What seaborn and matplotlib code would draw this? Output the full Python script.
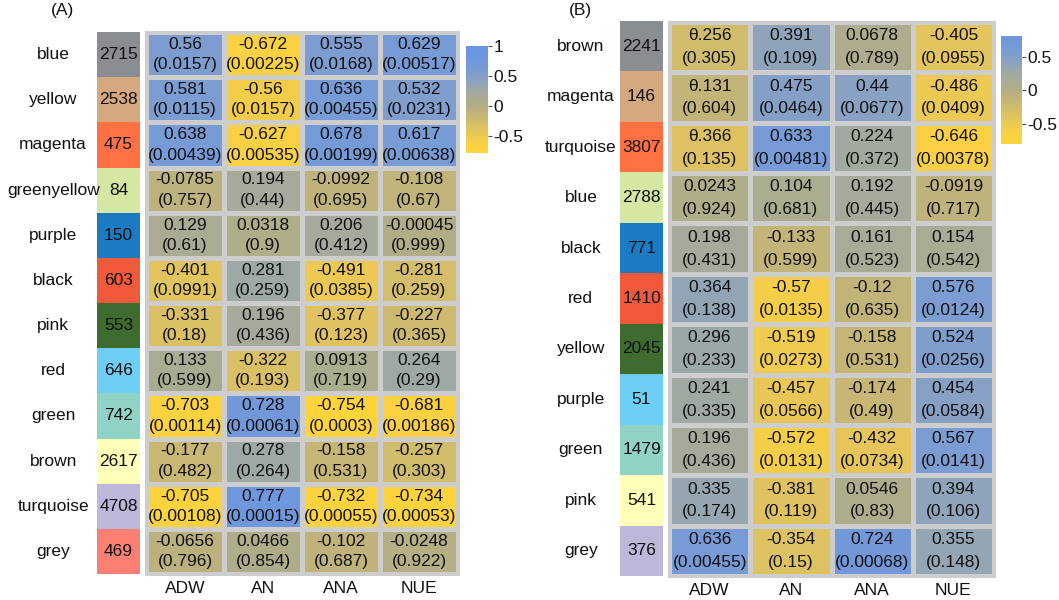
import numpy as np
import pandas as pd
import matplotlib
matplotlib.use("Agg")
import matplotlib.pyplot as plt
import seaborn as sns
from matplotlib.colors import ListedColormap, LinearSegmentedColormap

# ---- data: panel A ----
rows_a = ["blue", "yellow", "magenta", "greenyellow", "purple", "black",
          "pink", "red", "green", "brown", "turquoise", "grey"]
counts_a = [2715, 2538, 475, 84, 150, 603, 553, 646, 742, 2617, 4708, 469]
traits = ["ADW", "AN", "ANA", "NUE"]
r_a = [[0.56, -0.672, 0.555, 0.629],
       [0.581, -0.56, 0.636, 0.532],
       [0.638, -0.627, 0.678, 0.617],
       [-0.0785, 0.194, -0.0992, -0.108],
       [0.129, 0.0318, 0.206, -0.00045],
       [-0.401, 0.281, -0.491, -0.281],
       [-0.331, 0.196, -0.377, -0.227],
       [0.133, -0.322, 0.0913, 0.264],
       [-0.703, 0.728, -0.754, -0.681],
       [-0.177, 0.278, -0.158, -0.257],
       [-0.705, 0.777, -0.732, -0.734],
       [-0.0656, 0.0466, -0.102, -0.0248]]
p_a = [[0.0157, 0.00225, 0.0168, 0.00517],
       [0.0115, 0.0157, 0.00455, 0.0231],
       [0.00439, 0.00535, 0.00199, 0.00638],
       [0.757, 0.44, 0.695, 0.67],
       [0.61, 0.9, 0.412, 0.999],
       [0.0991, 0.259, 0.0385, 0.259],
       [0.18, 0.436, 0.123, 0.365],
       [0.599, 0.193, 0.719, 0.29],
       [0.00114, 0.00061, 0.0003, 0.00186],
       [0.482, 0.264, 0.531, 0.303],
       [0.00108, 0.00015, 0.00055, 0.00053],
       [0.796, 0.854, 0.687, 0.922]]

# ---- data: panel B ----
rows_b = ["brown", "magenta", "turquoise", "blue", "black", "red",
          "yellow", "purple", "green", "pink", "grey"]
counts_b = [2241, 146, 3807, 2788, 771, 1410, 2045, 51, 1479, 541, 376]
r_b = [[-0.256, 0.391, 0.0678, -0.405],
       [-0.131, 0.475, 0.44, -0.486],
       [-0.366, 0.633, 0.224, -0.646],
       [0.0243, 0.104, 0.192, -0.0919],
       [0.198, -0.133, 0.161, 0.154],
       [0.364, -0.57, -0.12, 0.576],
       [0.296, -0.519, -0.158, 0.524],
       [0.241, -0.457, -0.174, 0.454],
       [0.196, -0.572, -0.432, 0.567],
       [0.335, -0.381, 0.0546, 0.394],
       [0.636, -0.354, 0.724, 0.355]]
p_b = [[0.305, 0.109, 0.789, 0.0955],
       [0.604, 0.0464, 0.0677, 0.0409],
       [0.135, 0.00481, 0.372, 0.00378],
       [0.924, 0.681, 0.445, 0.717],
       [0.431, 0.599, 0.523, 0.542],
       [0.138, 0.0135, 0.635, 0.0124],
       [0.233, 0.0273, 0.531, 0.0256],
       [0.335, 0.0566, 0.49, 0.0584],
       [0.436, 0.0131, 0.0734, 0.0141],
       [0.174, 0.119, 0.83, 0.106],
       [0.00455, 0.15, 0.00068, 0.148]]
# in B the first three ADW labels are printed with a struck zero
theta_cells_b = [(0, 0), (1, 0), (2, 0)]

module_colors = ["#8A8D92", "#D5A87F", "#FF7043", "#D6E6A3", "#1A7BC3", "#EE5A3A",
                 "#3E6B2E", "#6DCFF5", "#8ED3C6", "#FFFFB9", "#BDB7D9", "#FB7F72"]

# colour stops by correlation value
stops = [(-0.80, "#FFD43A"), (-0.6, "#F7CF46"), (-0.4, "#E2C45E"), (-0.15, "#C5B676"),
         (0.0, "#B2AD86"), (0.15, "#A9AB94"), (0.3, "#9BA8AA"), (0.45, "#88A1C4"),
         (0.6, "#799CD4"), (0.8, "#6E96DE"), (1.0, "#6A94E4")]

W, H = 1059, 600
FS = 12.5


def make_cmap(vmin, vmax):
    vals = np.array([s[0] for s in stops])
    cols = [s[1] for s in stops]
    pts = []
    for v, c in zip(vals, cols):
        f = (v - vmin) / (vmax - vmin)
        if 0 <= f <= 1:
            pts.append((f, c))
    if pts[0][0] > 0:
        pts.insert(0, (0.0, cols[0]))
    if pts[-1][0] < 1:
        pts.append((1.0, cols[np.searchsorted(vals, vmax)]))
    return LinearSegmentedColormap.from_list("corr", pts)


def box(x, y, w, h):
    return [x / W, 1 - (y + h) / H, w / W, h / H]


def panel(fig, rows, counts, r, p, geo, vmin, vmax, cticks, label_x, title, title_x,
          theta=(), spacing=1.4):
    cnt_box, heat_box, cb_box = geo
    n = len(rows)

    # module size column
    ax_c = fig.add_axes(box(*cnt_box))
    idx = pd.DataFrame(np.arange(n).reshape(-1, 1))
    sns.heatmap(idx, ax=ax_c, cmap=ListedColormap(module_colors[:n]), cbar=False,
                annot=np.array(counts).reshape(-1, 1), fmt="d",
                annot_kws={"fontsize": FS, "color": "#111111"},
                xticklabels=False, yticklabels=False)
    ax_c.set_xlabel("")
    ax_c.set_ylabel("")
    for i, name in enumerate(rows):
        ax_c.text(label_x, i + 0.5, name, transform=ax_c.get_yaxis_transform(),
                  ha="center", va="center", fontsize=FS, color="#111111")

    # correlation cells
    labels = []
    for i in range(n):
        line = []
        for j in range(4):
            rt = str(r[i][j])
            if (i, j) in theta:
                rt = rt.replace("-0", "\u03b8")
            line.append(rt + "\n(" + str(p[i][j]) + ")")
        labels.append(line)
    df = pd.DataFrame(r, index=rows, columns=traits)
    ax_h = fig.add_axes(box(*heat_box))
    cax = fig.add_axes(box(*cb_box))
    sns.heatmap(df, ax=ax_h, cmap=make_cmap(vmin, vmax), vmin=vmin, vmax=vmax,
                annot=np.array(labels), fmt="", linewidths=2.2, linecolor="#CDCDCD",
                annot_kws={"fontsize": FS, "color": "#111111", "linespacing": spacing},
                cbar_ax=cax, yticklabels=False)
    ax_h.set_xlabel("")
    ax_h.set_ylabel("")
    for s in ax_h.spines.values():
        s.set_visible(True)
        s.set_color("#CDCDCD")
        s.set_linewidth(2.2)
    ax_h.tick_params(axis="x", length=0, pad=5, labelsize=FS, labelcolor="#111111")
    ax_h.tick_params(axis="y", length=0)

    cb = ax_h.collections[0].colorbar
    cb.outline.set_visible(False)
    cb.set_ticks(cticks)
    cb.set_ticklabels([("%g" % t) for t in cticks])
    cax.tick_params(labelsize=FS, length=3, width=0.8, color="#555555",
                    labelcolor="#111111", pad=1)

    fig.text(title_x / W, 1 - 10 / H, title, ha="center", va="center",
             fontsize=FS, color="#111111")


sns.set_style("white")
plt.rcParams["font.family"] = ["Liberation Sans", "DejaVu Sans"]

fig = plt.figure(figsize=(W / 100, H / 100), dpi=100)

panel(fig, rows_a, counts_a, r_a, p_a,
      ((97, 32, 43, 542), (146, 32, 312, 542), (466, 46, 22, 107)),
      -0.78, 1.0, [-0.5, 0, 0.5, 1], -1.02, "(A)", 63, spacing=1.45)

panel(fig, rows_b, counts_b, r_b, p_b,
      ((620, 21, 43, 555), (669, 22, 325, 554), (1001, 36, 21, 108)),
      -0.80, 0.81, [-0.5, 0, 0.5], -0.91, "(B)", 580, theta=theta_cells_b, spacing=1.65)

fig.savefig("out.png", dpi=100)
